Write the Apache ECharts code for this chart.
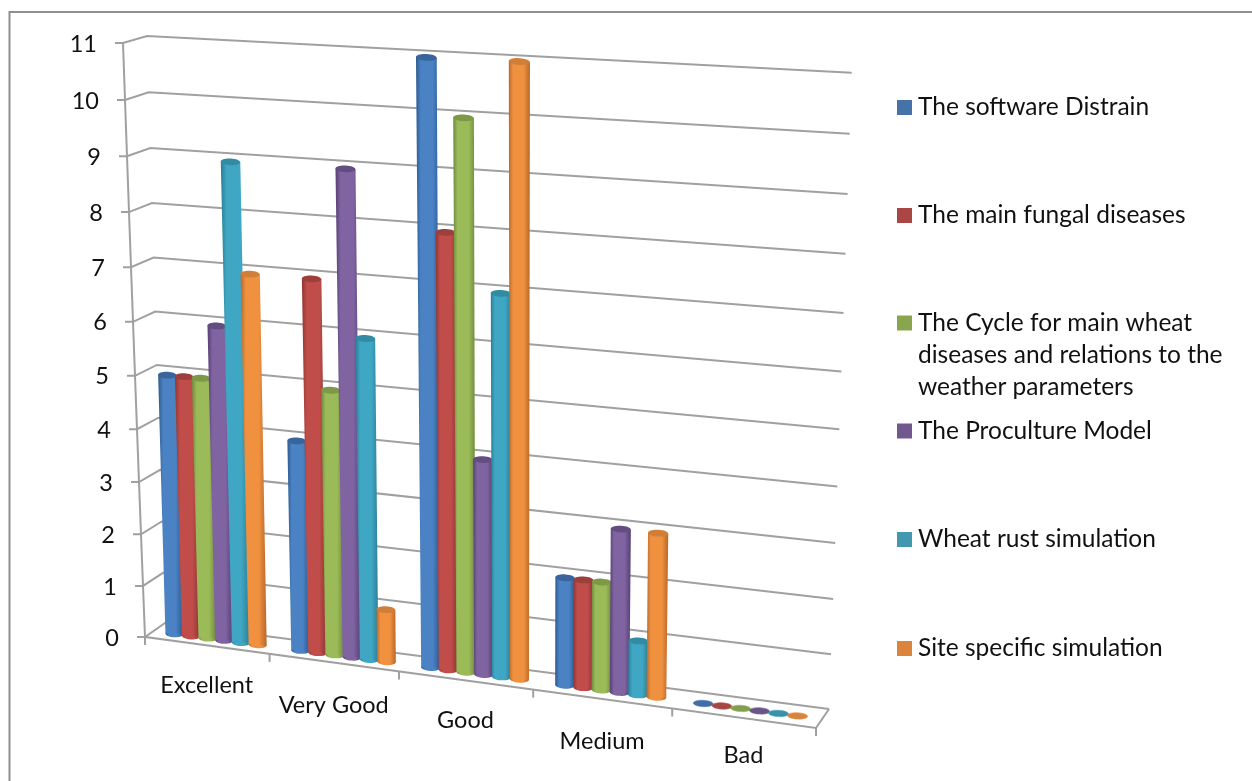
<!DOCTYPE html>
<html>
<head>
<meta charset="utf-8">
<script src="https://cdn.jsdelivr.net/npm/echarts@6/dist/echarts.min.js"></script>
<style>html,body{margin:0;padding:0;background:#fff}#c{width:1252px;height:781px}</style>
</head>
<body>
<div id="c"></div>
<script>
// ---- data ----
const categories = ['Excellent', 'Very Good', 'Good', 'Medium', 'Bad'];
const yTicks = [0, 1, 2, 3, 4, 5, 6, 7, 8, 9, 10, 11];
const seriesNames = [
  'The software Distrain',
  'The main fungal diseases',
  'The Cycle for main wheat diseases and relations to the weather parameters',
  'The Proculture Model',
  'Wheat rust simulation',
  'Site specific simulation'
];
const softwareDistrain = [5, 4, 11, 2, 0];
const mainFungalDiseases = [5, 7, 8, 2, 0];
const cycleMainWheat = [5, 5, 10, 2, 0];
const procultureModel = [6, 9, 4, 3, 0];
const wheatRustSimulation = [9, 6, 7, 1, 0];
const siteSpecificSimulation = [7, 1, 11, 3, 0];
const seriesValues = [softwareDistrain, mainFungalDiseases, cycleMainWheat, procultureModel, wheatRustSimulation, siteSpecificSimulation];

// ---- styling ----
const legendColors = ['#4572a7', '#aa4643', '#89a54e', '#71588f', '#4198af', '#db843d'];
const edgeColors = ['#2c5a90', '#8f3533', '#6f8a3c', '#563f73', '#2b7d94', '#b8682a'];
const lightColors = ['#4a82c4', '#c04d4a', '#9bbb59', '#8064a2', '#3fa7c4', '#f0913f'];
const capColors = ['#3a659c', '#9d3f3c', '#7d9947', '#644d80', '#318ba3', '#d17e38'];
const legendY = [107.5, 215.5, 323, 431, 539.5, 648.5];
const labelShiftY = [0, 3, 0, 2, -3];
const FONT = 'Lato';
const FS = 23.5;
const FS_LEGEND = 24.5;
const LINE = '#a0a0a0';
const TEXT = '#111';

// ---- the projected plot box: hidden cartesian axes supply the scales ----
const G = {left: 145, top: 43, width: 672, height: 594};
const mix = (a, b, t) => a + (b - a) * t;
const warpV = t => t - 0.06 * t * (1 - t);       // vertical foreshortening
const tOf = py => (G.top + G.height - py) / G.height;
const bandOf = px => (px - G.left) / (G.width / 5);
const front = t => { const w = warpV(t); return [mix(145, 123, t), mix(637, 43, w)]; };
const backL = t => { const w = warpV(t); return [mix(165, 147, t), mix(623, 36, w)]; };
const backR = t => { const w = warpV(t); return [mix(829, 851.7, t), mix(709, 72.7, w)]; };
const floorX = k => 145 + 122.2 * k + 2.4 * k * k;
const floorY = x => 637 + 0.1356 * (x - 145);
const barX = c => 215.75 + 125.4 * c + 2.05 * c * c;
const barBase = x => 633 + 0.1317 * (x - 168);
const barH = x => 594 + 0.085 * (x - 240);
const lineEl = (pts) => ({type: 'polyline', shape: {points: pts}, style: {stroke: LINE, lineWidth: 2, fill: null}});
const textEl = (text, x, y, align) => ({type: 'text', style: {text, x, y, align, verticalAlign: 'middle', fontFamily: FONT, fontSize: FS, fill: TEXT}});

function renderWall(params, api) {
  const v = api.value(1);
  const t = tOf(api.coord([0, v])[1]);
  const f = front(t), l = backL(t), r = backR(t);
  const kids = [
    lineEl([[f[0] - 8, f[1]], f, l, r]),
    textEl(String(v), f[0] - 26, f[1] + 1, 'right')
  ];
  if (v > 0) {
    kids.push(lineEl([f, front(tOf(api.coord([0, v - 1])[1]))]));
  } else {
    const end = floorX(5);
    kids.push(lineEl([[f[0], f[1] + 8], f, [end, floorY(end)], r]));
  }
  return {type: 'group', children: kids};
}

function renderFloor(params, api) {
  const c = api.value(0);
  const k = bandOf(api.coord([c, 0])[0]);  // centre of the band, in band units
  const tickX = floorX(k + 0.5), tickY = floorY(tickX);
  const labX = floorX(k);
  return {type: 'group', children: [
    lineEl([[tickX, tickY], [tickX, tickY + 8]]),
    textEl(categories[c], labX, floorY(labX) + 40 + labelShiftY[c], 'center')
  ]};
}

function renderBar(si) {
  return function (params, api) {
    const p0 = api.coord([api.value(0), 0]);
    const p1 = api.coord([api.value(0), api.value(1)]);
    const c = bandOf(p0[0]) - 0.5 + (si - 2.5) * 0.133;
    const x = barX(c);
    const slot = 0.133 * (125.4 + 4.1 * c);
    const hw = slot / 2 + 0.6;
    const y0 = barBase(x);
    const h = barH(x) * warpV(tOf(p1[1]));
    const y1 = y0 - h;
    const xt = x + (x - 520) / 13000 * h;
    const hwt = hw + h * 0.0016;
    const slope = 0.05;
    const grad = new echarts.graphic.LinearGradient(0, 0, 1, 0, [
      {offset: 0, color: edgeColors[si]},
      {offset: 0.2, color: lightColors[si]},
      {offset: 0.7, color: lightColors[si]},
      {offset: 1, color: edgeColors[si]}
    ]);
    const rot = -Math.atan(slope);
    const kids = [];
    if (h > 0.5) {
      kids.push({type: 'ellipse', x, y: y0, rotation: rot, shape: {cx: 0, cy: 0, rx: hw, ry: 3.4}, style: {fill: grad}});
      kids.push({type: 'polygon', shape: {points: [
        [xt - hwt, y1 - hwt * slope], [xt + hwt, y1 + hwt * slope], [x + hw, y0 + hw * slope], [x - hw, y0 - hw * slope]
      ]}, style: {fill: grad}});
      kids.push({type: 'ellipse', x: xt, y: y1, rotation: rot, shape: {cx: 0, cy: 0, rx: hwt, ry: 3.4}, style: {fill: capColors[si]}});
    } else {
      kids.push({type: 'ellipse', x, y: y0, rotation: rot, shape: {cx: 0, cy: 0, rx: hw, ry: 3.2},
        style: {fill: capColors[si], stroke: lightColors[si], lineWidth: 0.6, opacity: 0.95}});
    }
    return {type: 'group', children: kids};
  };
}

const legendFormat = n => n.startsWith('The Cycle')
  ? '\n\nThe Cycle for main wheat\ndiseases and relations to the\nweather parameters' : n;

const option = {
  animation: false,
  backgroundColor: '#fff',
  grid: {left: G.left, top: G.top, width: G.width, height: G.height, containLabel: false},
  xAxis: {type: 'category', data: categories, show: false},
  yAxis: {type: 'value', min: 0, max: 11, interval: 1, show: false},
  graphic: [{type: 'polyline', silent: true, shape: {points: [[9.5, 781], [9.5, 12], [1252, 12]]},
    style: {stroke: '#8e8e8e', lineWidth: 2, fill: null}}],
  legend: seriesNames.map((n, i) => ({
    data: [n],
    orient: 'vertical',
    left: 897,
    top: legendY[i] - (i === 2 ? 80 : 15),
    padding: 0,
    itemWidth: 15,
    itemHeight: 15,
    selectedMode: false,
    icon: 'rect',
    formatter: legendFormat,
    textStyle: {fontFamily: FONT, fontSize: FS_LEGEND, color: TEXT, lineHeight: i === 2 ? 32 : 30, padding: [0, 0, 0, 1]}
  })),
  series: [
    {type: 'custom', name: 'wall', renderItem: renderWall, clip: false, silent: true, z: 1,
      encode: {x: 0, y: 1}, data: yTicks.map(v => [0, v])},
    {type: 'custom', name: 'floor', renderItem: renderFloor, clip: false, silent: true, z: 1,
      encode: {x: 0, y: 1}, data: categories.map((c, i) => [i, 0])}
  ].concat(seriesNames.map((n, si) => ({
    type: 'custom', name: n, renderItem: renderBar(si), clip: false, z: 2 + si,
    itemStyle: {color: legendColors[si]},
    encode: {x: 0, y: 1},
    data: seriesValues[si].map((v, i) => [i, v])
  })))
};
echarts.init(document.getElementById('c'), null, {renderer: 'canvas'}).setOption(option);
</script>
</body>
</html>
